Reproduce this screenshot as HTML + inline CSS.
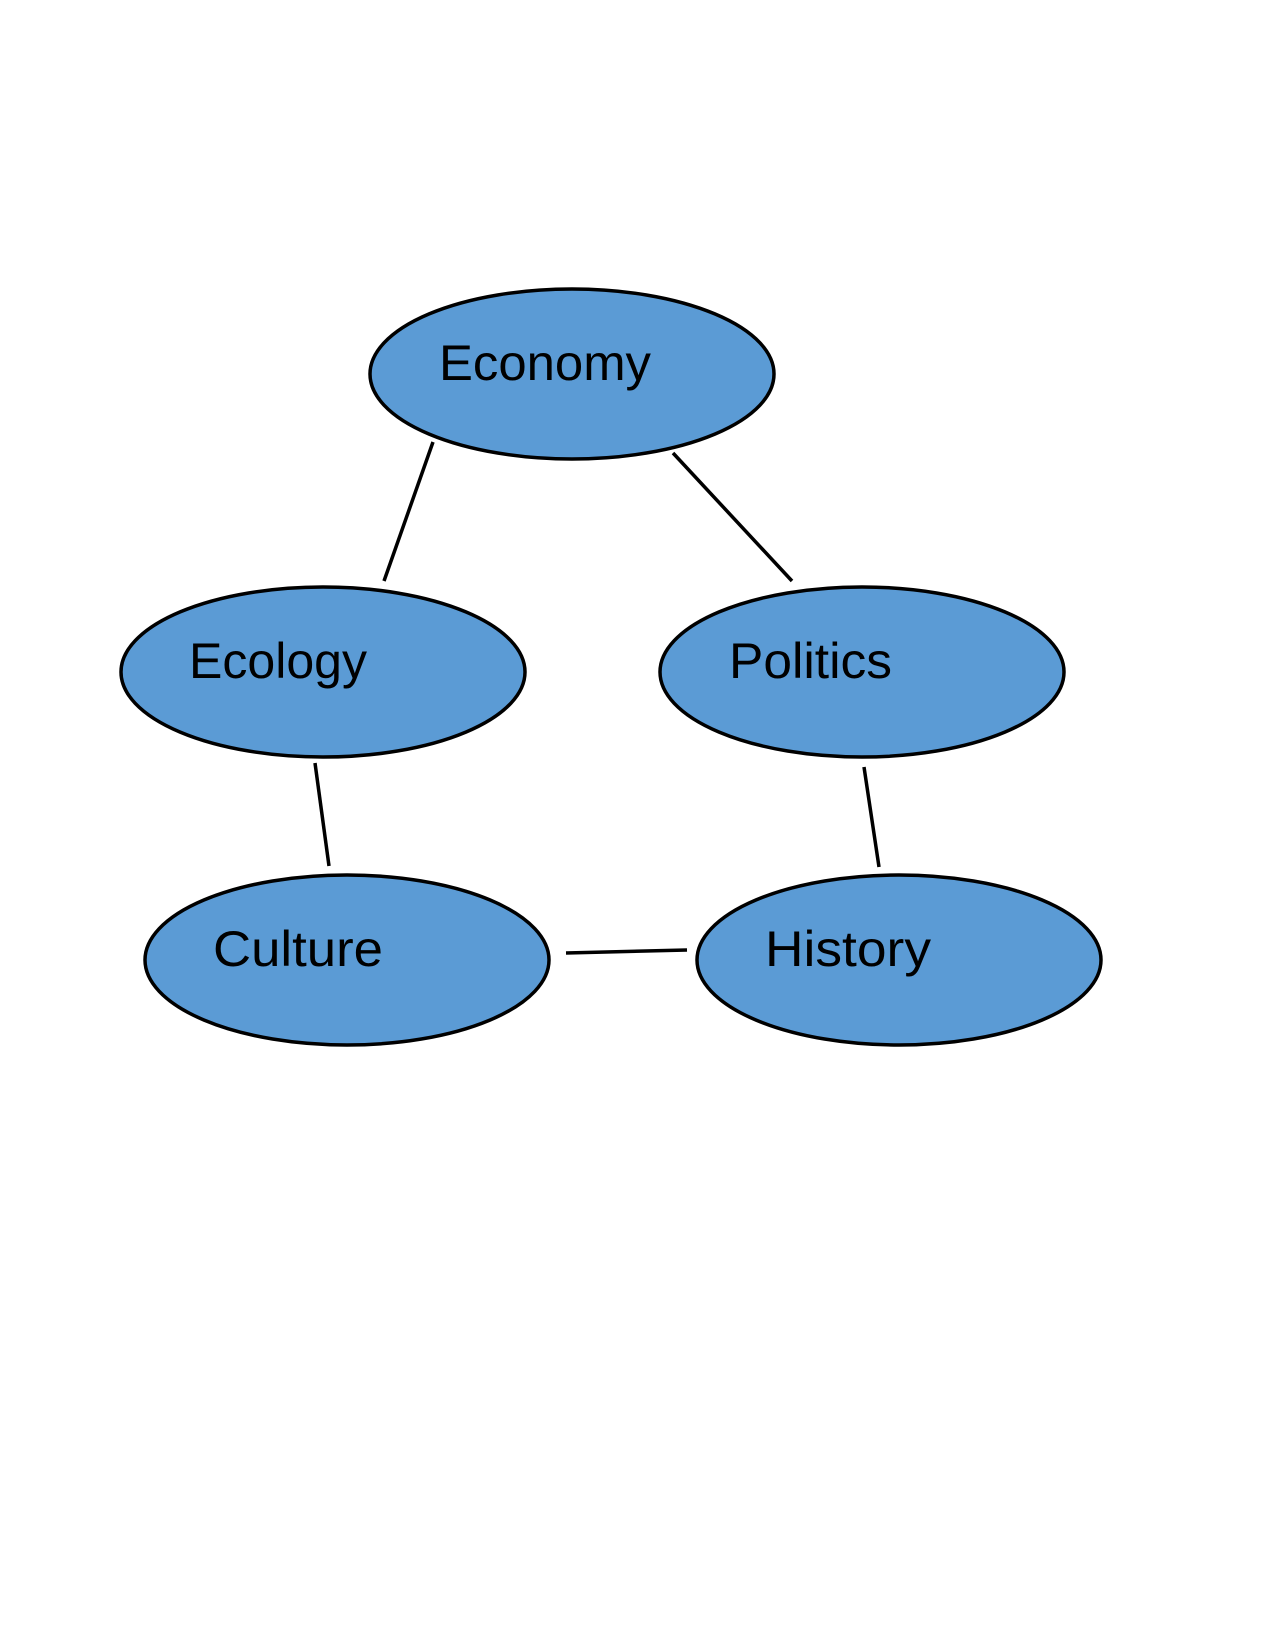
<!DOCTYPE html>
<html><head><meta charset="utf-8"><style>html,body{margin:0;padding:0;background:#fff}svg{display:block}</style></head>
<body>
<svg width="1275" height="1650" viewBox="0 0 1275 1650" xmlns="http://www.w3.org/2000/svg">
<g fill="#5b9bd5" stroke="#000" stroke-width="3.5">
<ellipse cx="572" cy="374" rx="202" ry="85"/>
<ellipse cx="323" cy="672" rx="202" ry="85"/>
<ellipse cx="862" cy="672" rx="202" ry="85"/>
<ellipse cx="347" cy="960" rx="202" ry="85"/>
<ellipse cx="899" cy="960" rx="202" ry="85"/>
</g>
<g stroke="#000" stroke-width="3.5">
<line x1="433" y1="442" x2="384" y2="581"/>
<line x1="673" y1="453" x2="792" y2="581"/>
<line x1="315" y1="763" x2="329" y2="866"/>
<line x1="864" y1="767" x2="879" y2="867"/>
<line x1="566" y1="953" x2="687" y2="950"/>
</g>
<g font-family="Liberation Sans, sans-serif" font-size="50" fill="#000" lengthAdjust="spacingAndGlyphs">
<text x="439" y="380" textLength="212" lengthAdjust="spacingAndGlyphs">Economy</text>
<text x="189" y="678" textLength="178" lengthAdjust="spacingAndGlyphs">Ecology</text>
<text x="729" y="678" textLength="163" lengthAdjust="spacingAndGlyphs">Politics</text>
<text x="213" y="966" textLength="170" lengthAdjust="spacingAndGlyphs">Culture</text>
<text x="765" y="966" textLength="166" lengthAdjust="spacingAndGlyphs">History</text>
</g>
</svg>
</body></html>
